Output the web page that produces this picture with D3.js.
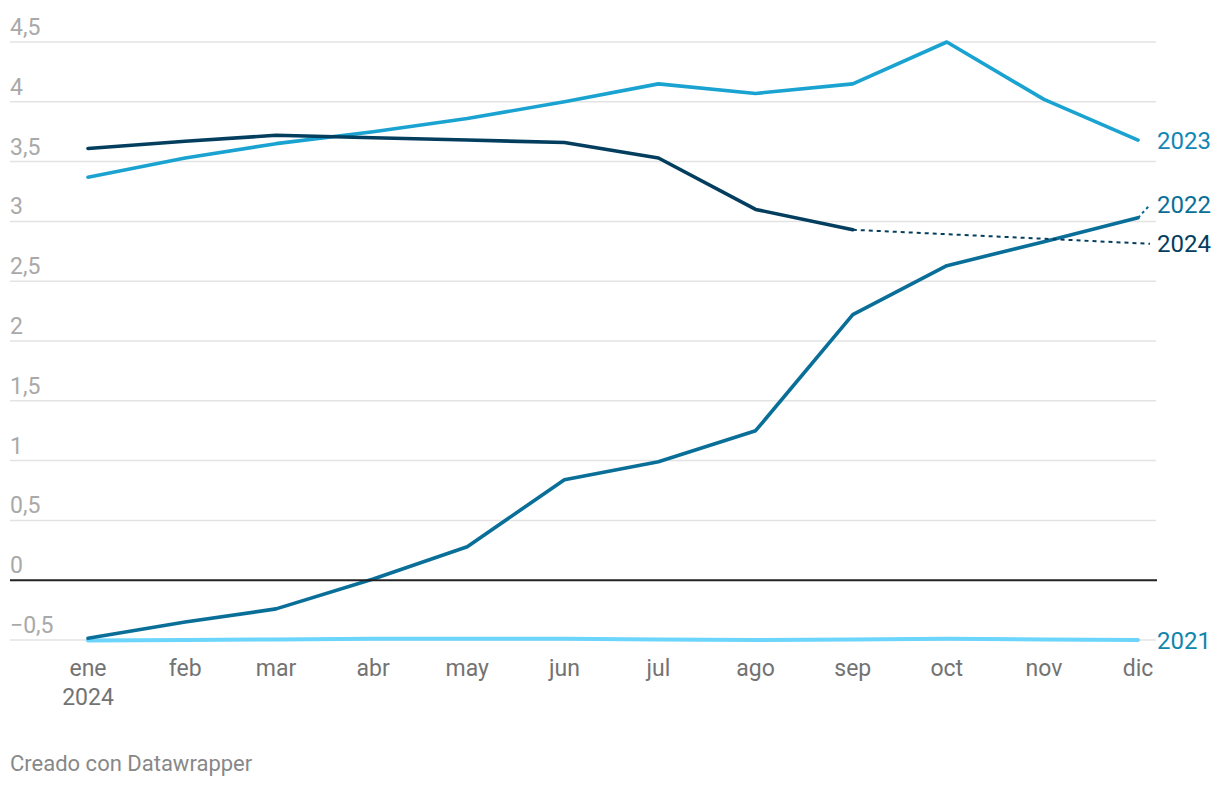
<!DOCTYPE html>
<html>
<head>
<meta charset="utf-8">
<script src="https://cdn.jsdelivr.net/npm/d3@7"></script>
<style>
  html, body { margin: 0; padding: 0; background: #fff; }
  svg { display: block; font-family: Roboto, "Noto Sans", sans-serif; }
</style>
</head>
<body>
<svg id="chart" width="1220" height="788"></svg>
<script>
const dates = ["2024-01-01","2024-02-01","2024-03-01","2024-04-01","2024-05-01","2024-06-01",
               "2024-07-01","2024-08-01","2024-09-01","2024-10-01","2024-11-01","2024-12-01"];
const monthLabels = ["ene","feb","mar","abr","may","jun","jul","ago","sep","oct","nov","dic"];
const yTicks = [-0.5, 0, 0.5, 1, 1.5, 2, 2.5, 3, 3.5, 4, 4.5];
const yTickLabels = ["\u22120,5","0","0,5","1","1,5","2","2,5","3","3,5","4","4,5"];

const s2023 = [3.37, 3.53, 3.65, 3.75, 3.86, 4.0, 4.15, 4.07, 4.15, 4.5, 4.02, 3.68];
const s2024 = [3.61, 3.67, 3.72, 3.70, 3.68, 3.66, 3.53, 3.10, 2.93];
const s2022 = [-0.485, -0.35, -0.24, 0.01, 0.28, 0.84, 0.99, 1.25, 2.22, 2.63, 2.83, 3.03];
const s2021 = [-0.505, -0.50, -0.495, -0.49, -0.49, -0.49, -0.495, -0.50, -0.495, -0.49, -0.495, -0.50];

const seriesNames = ["2021", "2022", "2023", "2024"];
const seriesData = [s2021, s2022, s2023, s2024];
const lineColors = ["#6bd5fc", "#0a6f98", "#1aa3d1", "#043e5f"];
const labelColors = ["#0f86ab", "#0a6f98", "#1287b6", "#043e5f"];
const lineWidths = [4, 3.6, 3.6, 3.6];

const parsed = dates.map(d => new Date(d + "T00:00:00Z"));
const svg = d3.select("#chart");
const x = d3.scaleUtc().domain([parsed[0], parsed[parsed.length - 1]]).range([88, 1138]);
const y = d3.scaleLinear().domain([-0.5, 4.5]).range([640, 42]);

// gridlines
const grid = svg.append("g");
grid.selectAll("line").data(yTicks.filter(v => v !== 0)).enter().append("line")
  .attr("x1", 10).attr("x2", 1156)
  .attr("y1", d => y(d)).attr("y2", d => y(d))
  .attr("stroke", "#e3e3e3").attr("stroke-width", 1.5);

// y tick labels
svg.append("g").selectAll("text").data(yTicks).enter().append("text")
  .attr("x", 10).attr("y", d => y(d) - 7)
  .attr("fill", "#a9a9a9").attr("font-size", 23)
  .text((d, i) => yTickLabels[i]);

// x axis labels
const xg = svg.append("g");
xg.selectAll("text").data(parsed).enter().append("text")
  .attr("x", d => x(d)).attr("y", 676)
  .attr("text-anchor", "middle").attr("fill", "#737373").attr("font-size", 23)
  .text((d, i) => monthLabels[i]);
xg.append("text").attr("x", x(parsed[0])).attr("y", 705)
  .attr("text-anchor", "middle").attr("fill", "#737373").attr("font-size", 23).text("2024");

// lines
const line = d3.line().x((d, i) => x(parsed[i])).y(d => y(d));
const order = [0, 2, 3, 1];
order.forEach(k => {
  svg.append("path").datum(seriesData[k])
    .attr("d", line).attr("fill", "none")
    .attr("stroke", lineColors[k]).attr("stroke-width", lineWidths[k])
    .attr("stroke-linejoin", "round").attr("stroke-linecap", "round");
});

// zero baseline
svg.append("line").attr("x1", 10).attr("x2", 1157)
  .attr("y1", y(0)).attr("y2", y(0)).attr("stroke", "#222").attr("stroke-width", 2);

// series end labels with connectors
const labelX = 1157;
const labelOffsets = [0, -13, 0, 14];
seriesData.forEach((arr, k) => {
  const last = arr.length - 1;
  const px = x(parsed[last]);
  const py = y(arr[last]);
  const ly = py + labelOffsets[k];
  if (k === 3) {
    svg.append("line").attr("x1", px).attr("y1", py).attr("x2", labelX - 7).attr("y2", ly)
      .attr("stroke", lineColors[k]).attr("stroke-width", 2).attr("stroke-dasharray", "4,4");
  } else if (k === 1) {
    svg.append("line").attr("x1", px).attr("y1", py).attr("x2", labelX - 7).attr("y2", ly)
      .attr("stroke", lineColors[k]).attr("stroke-width", 2).attr("stroke-dasharray", "3,3");
  }
  svg.append("text").attr("x", labelX).attr("y", ly).attr("dy", "0.36em")
    .attr("fill", labelColors[k]).attr("font-size", 24).text(seriesNames[k]);
});

// footer
svg.append("text").attr("x", 10).attr("y", 771).attr("fill", "#888").attr("font-size", 22)
  .text("Creado con Datawrapper");
</script>
</body>
</html>
